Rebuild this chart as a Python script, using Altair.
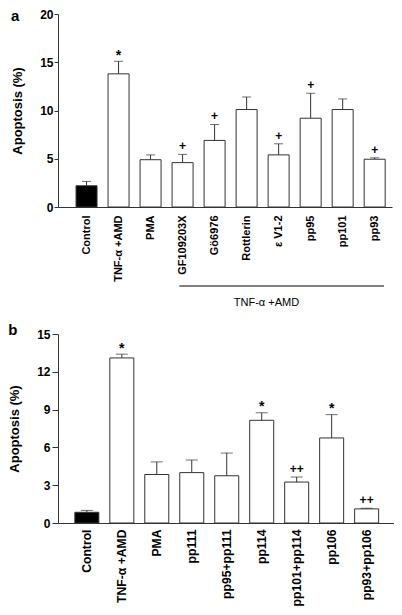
import json
import altair as alt
import pandas as pd

FONT = "Liberation Sans"
INK = "#333333"

# ---------------- data: panel a ----------------
a_labels = ["Control", "TNF-α +AMD", "PMA", "GF109203X", "Gö6976",
            "Rottlerin", "ε V1-2", "pp95", "pp101", "pp93"]
a_mean = [2.2, 13.8, 4.9, 4.6, 6.9, 10.1, 5.4, 9.2, 10.1, 4.95]
a_sem = [0.45, 1.3, 0.5, 0.85, 1.65, 1.3, 1.15, 2.6, 1.1, 0.15]
a_sig = ["", "*", "", "+", "+", "", "+", "+", "", "+"]
a_ticks = [0, 5, 10, 15, 20]

# ---------------- data: panel b ----------------
b_labels = ["Control", "TNF-α +AMD", "PMA", "pp111", "pp95+pp111",
            "pp114", "pp101+pp114", "pp106", "pp93+pp106"]
b_mean = [0.85, 13.1, 3.85, 4.0, 3.75, 8.15, 3.25, 6.75, 1.12]
b_sem = [0.15, 0.3, 1.0, 1.0, 1.8, 0.6, 0.4, 1.85, 0.05]
b_sig = ["", "*", "", "", "", "*", "++", "*", "++"]
b_ticks = [0, 3, 6, 9, 12, 15]

group_label = "TNF-α +AMD"
y_title = "Apoptosis (%)"


def make_df(labels, mean, sem, sig):
    return pd.DataFrame({
        "i": list(range(len(labels))),
        "label": labels,
        "mean": mean,
        "top": [m + s for m, s in zip(mean, sem)],
        "sig": sig,
    })


def panel(df, labels, ticks, letter, letter_x, letter_y, xdom,
          barw, capw, ytick, ypad, xfont, xpad):
    xscale = alt.Scale(domain=xdom, nice=False, zero=False)
    xaxis = alt.Axis(values=list(range(len(labels))),
                     labelExpr=json.dumps(labels, ensure_ascii=False) + "[datum.value]",
                     labelAngle=270, ticks=False, tickSize=0, labelPadding=xpad,
                     labelFontSize=xfont, labelFontWeight="bold", labelOverlap=False,
                     labelFlush=False, grid=False, title=None, domainColor=INK)
    yscale = alt.Scale(domain=[ticks[0], ticks[-1]], nice=False)
    yaxis = alt.Axis(values=ticks, grid=False, title=y_title, titleFontSize=13,
                     titleFontWeight="bold", titlePadding=15, labelFontSize=12,
                     labelFontWeight="bold", tickSize=ytick, labelPadding=ypad,
                     domainColor=INK, tickColor=INK)

    def X(f=None, datum=None):
        if datum is not None:
            return alt.X(datum=datum, scale=xscale, axis=xaxis)
        return alt.X(f, scale=xscale, axis=xaxis)

    def Y(f):
        return alt.Y(f, scale=yscale, axis=yaxis)

    base = alt.Chart(df)
    bars = base.mark_bar(size=barw, stroke=INK, strokeWidth=1).encode(
        x=X("i:Q"), y=Y("mean:Q"),
        fill=alt.condition(alt.datum.i == 0, alt.value("black"), alt.value("white")),
    )
    err = base.mark_rule(color=INK, strokeWidth=1).encode(
        x=X("i:Q"), y=Y("mean:Q"), y2="top:Q")
    cap = base.mark_tick(orient="horizontal", size=capw, thickness=1, color=INK).encode(
        x=X("i:Q"), y=Y("top:Q"))
    star = base.transform_filter("datum.sig == '*'").mark_text(
        font=FONT, fontSize=14, fontWeight="bold", baseline="alphabetic", dy=-1.5,
        color="black").encode(x=X("i:Q"), y=Y("top:Q"), text="sig:N")
    plus = base.transform_filter("indexof(datum.sig, '+') >= 0").mark_text(
        font=FONT, fontSize=12, fontWeight="bold", baseline="alphabetic", dy=-4,
        color="black").encode(x=X("i:Q"), y=Y("top:Q"), text="sig:N")
    let = alt.Chart(pd.DataFrame({"t": [letter]})).mark_text(
        font=FONT, fontSize=15, fontWeight="bold", align="left",
        baseline="top", color="black").encode(
        x=alt.value(letter_x), y=alt.value(letter_y), text="t:N")
    return [bars, err, cap, star, plus, let], X


df_a = make_df(a_labels, a_mean, a_sem, a_sig)
df_b = make_df(b_labels, b_mean, b_sem, b_sig)

WA, HA = 334, 193
WB, HB = 336, 189

layers_a, XA = panel(df_a, a_labels, a_ticks, "a", -47, -5, [-0.735, 9.385],
                     21, 9, 4, 1, 11, 8)
ann = alt.Chart(pd.DataFrame({"t": [group_label]}))
ann_rule = ann.mark_rule(color="black", strokeWidth=1).encode(
    x=XA(datum=2.9), x2=alt.datum(9.29), y=alt.value(HA + 79))
ann_text = ann.mark_text(font=FONT, fontSize=11, baseline="alphabetic",
                         color="black").encode(
    x=XA(datum=5.62), y=alt.value(HA + 99), text="t:N")
chart_a = alt.layer(*layers_a, ann_rule, ann_text).properties(width=WA, height=HA)

layers_b, XB = panel(df_b, b_labels, b_ticks, "b", -49.7, -11, [-0.682, 8.64],
                     24, 12, 6, 2, 12.2, 6)
chart_b = alt.layer(*layers_b).properties(width=WB, height=HB)

chart = alt.vconcat(chart_a, chart_b, spacing=15).properties(
    padding=0, background="white"
).configure_view(stroke=None).configure_axis(
    labelFont=FONT, titleFont=FONT, labelColor="black", titleColor="black"
).configure_text(font=FONT)

chart.save("out.html", embed_options={"renderer": "svg", "actions": False})
